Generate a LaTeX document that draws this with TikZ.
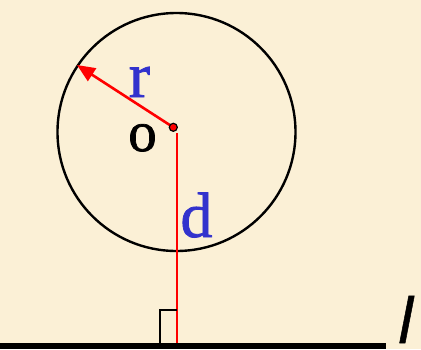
\documentclass[tikz,border=0pt]{standalone}
\usepackage{fontspec}
\setmainfont{Liberation Serif}
\newfontfamily\lblfont{Liberation Serif}[FakeBold=1.2]
\newfontfamily\handfont{DejaVu Sans}[FakeBold=0.8]
\usetikzlibrary{arrows.meta}
\definecolor{bgcream}{RGB}{251,240,214}
\definecolor{lblblue}{RGB}{50,50,205}
\begin{document}
\begin{tikzpicture}[x=1pt,y=-1pt,
  lbl/.style={inner sep=0pt,anchor=base,font=\lblfont\fontsize{64}{64}\selectfont},
  redline/.style={draw=red,line width=2.2pt}]
\fill[bgcream] (0,0) rectangle (421,349);
\useasboundingbox (0,0) rectangle (421,349);
% circle
\node[draw=black,line width=2.4pt,circle,minimum size=238pt,inner sep=0pt] (circ) at (176.5,132) {};
% center
\coordinate (o) at (173.3,127.3);
\coordinate (tip) at (77,65);
\coordinate (dtop) at (176.7,133);
\coordinate (foot) at (176.7,343);
% radius arrow
\draw[redline,line width=2.6pt,-{Triangle[length=18pt,width=15pt]}] (o) -- (tip);
% distance line
\draw[redline] (dtop) -- (foot);
% right angle mark
\coordinate (ra1) at (160,343);
\coordinate (ra2) at (160,310);
\coordinate (ra3) at (176.7,310);
\draw[black,line width=2pt] (ra1) -- (ra2) -- (ra3);
% line l
\coordinate (lstart) at (0,346);
\coordinate (lend) at (386,346);
\draw[black,line width=6.5pt] (lstart) -- (lend);
% center dot
\node[circle,fill=red,draw=black,line width=1.2pt,minimum size=8pt,inner sep=0pt] (dot) at (o) {};
% labels
\node[lbl,text=lblblue] (r) at (139.5,97) {r};
\node[lbl,text=black,font=\lblfont\fontsize{57}{57}\selectfont] (olbl) at (142.5,151) {o};
\node[lbl,text=lblblue] (d) at (196.5,237) {d};
\node[inner sep=0pt,anchor=base,font=\handfont\fontsize{62}{62}\selectfont\itshape,text=black] (l) at (406,343) {l};
\end{tikzpicture}
\end{document}
